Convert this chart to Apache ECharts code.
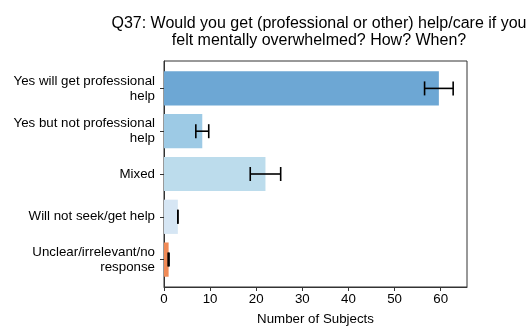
<!DOCTYPE html>
<html>
<head>
<meta charset="utf-8">
<script src="https://cdn.jsdelivr.net/npm/echarts@6/dist/echarts.min.js"></script>
<style>
  html, body { margin: 0; padding: 0; background: #fff; }
  #chart { width: 529px; height: 331px; }
</style>
</head>
<body>
<div id="chart"></div>
<script>
// Survey answers, top to bottom
const categories = [
  'Yes will get professional\nhelp',
  'Yes but not professional\nhelp',
  'Mixed',
  'Will not seek/get help',
  'Unclear/irrelevant/no\nresponse'
];
const counts = [59.6, 8.3, 22, 3, 1];
const errors = [3.1, 1.4, 3.3, 0, 0.1];
const barColors = ['#6da7d4', '#9dcae5', '#bcdcec', '#d6e6f4', '#f08a56'];
const xTicks = [0, 10, 20, 30, 40, 50, 60];

const FONT = '"Liberation Sans", Arial, Helvetica, sans-serif';
const chart = echarts.init(document.getElementById('chart'), null, { renderer: 'canvas' });

const rows = counts.map((v, i) => [i, v, errors[i]]);

chart.setOption({
  animation: false,
  title: {
    text: 'Q37: Would you get (professional or other) help/care if you\nfelt mentally overwhelmed? How? When?',
    left: 314,
    top: 10,
    textAlign: 'center',
    textStyle: { fontFamily: FONT, fontSize: 16, fontWeight: 'normal', color: '#000', lineHeight: 17 }
  },
  grid: {
    left: 164, right: 62, top: 61, bottom: 44,
    show: true, borderColor: '#333', borderWidth: 1, backgroundColor: 'transparent'
  },
  xAxis: {
    type: 'value',
    min: 0,
    max: 65.7,
    interval: 10,
    splitLine: { show: false },
    axisLine: { show: true, onZero: false, lineStyle: { color: '#333', width: 1 } },
    axisTick: { show: true, length: 4, inside: false, customValues: xTicks, lineStyle: { color: '#333' } },
    axisLabel: { customValues: xTicks, margin: 6, fontFamily: FONT, fontSize: 13.3, color: '#000' },
    name: 'Number of Subjects',
    nameLocation: 'middle',
    nameGap: 26,
    nameTextStyle: { fontFamily: FONT, fontSize: 13.3, color: '#000' }
  },
  yAxis: {
    type: 'value',
    inverse: true,
    min: -0.64,
    max: 4.64,
    splitLine: { show: false },
    axisLine: { show: true, onZero: false, lineStyle: { color: '#333', width: 1 } },
    axisTick: { show: true, length: 4, customValues: [0, 1, 2, 3, 4], lineStyle: { color: '#333' } },
    axisLabel: {
      customValues: [0, 1, 2, 3, 4],
      formatter: v => categories[Math.round(v)] || '',
      margin: 9,
      fontFamily: FONT, fontSize: 13.3, color: '#000', lineHeight: 15, align: 'right'
    }
  },
  series: [
    {
      // horizontal bars
      type: 'custom',
      data: rows,
      encode: { x: 1, y: 0 },
      renderItem: (params, api) => {
        const i = api.value(0);
        const start = api.coord([0, i]);
        const end = api.coord([api.value(1), i]);
        const h = api.size([0, 0.8])[1];
        return {
          type: 'rect',
          shape: { x: start[0], y: start[1] - h / 2, width: end[0] - start[0], height: h },
          style: { fill: barColors[i] }
        };
      },
      z: 2
    },
    {
      // error bars with caps
      type: 'custom',
      data: rows,
      encode: { x: 1, y: 0 },
      renderItem: (params, api) => {
        const i = api.value(0);
        const v = api.value(1), e = api.value(2);
        const lo = api.coord([v - e, i]);
        const hi = api.coord([v + e, i]);
        const cap = 7;
        const st = { stroke: '#000', lineWidth: 1.6 };
        return {
          type: 'group',
          children: [
            { type: 'line', shape: { x1: lo[0], y1: lo[1], x2: hi[0], y2: hi[1] }, style: st },
            { type: 'line', shape: { x1: lo[0], y1: lo[1] - cap, x2: lo[0], y2: lo[1] + cap }, style: st },
            { type: 'line', shape: { x1: hi[0], y1: hi[1] - cap, x2: hi[0], y2: hi[1] + cap }, style: st }
          ]
        };
      },
      z: 3
    }
  ]
});
</script>
</body>
</html>
